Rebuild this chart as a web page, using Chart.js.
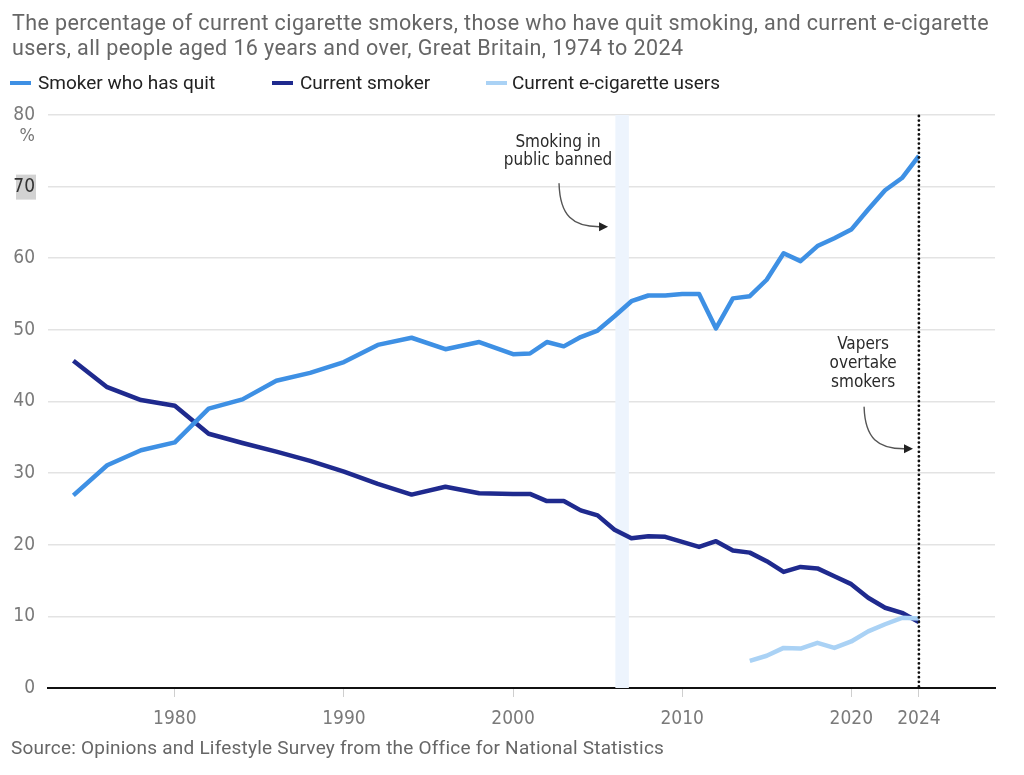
<!DOCTYPE html>
<html>
<head>
<meta charset="utf-8">
<script src="https://cdn.jsdelivr.net/npm/chart.js@4.4.1/dist/chart.umd.min.js"></script>
<style>
html,body{margin:0;padding:0;background:#fff;width:1024px;height:775px;overflow:hidden;}
#wrap{position:relative;width:1024px;height:775px;}
canvas{position:absolute;left:0;top:0;}
.title{position:absolute;left:12px;top:10px;font:21.5px/25px Roboto, sans-serif;letter-spacing:0.4px;color:#666;white-space:nowrap;}
.leg{position:absolute;top:71px;font:19px/24px Roboto, sans-serif;color:#222;white-space:nowrap;}
.sw{position:absolute;top:81px;width:21px;height:4px;}
.source{position:absolute;left:11px;top:737px;font:19px/22px Roboto, sans-serif;letter-spacing:0.22px;color:#666;white-space:nowrap;}
</style>
</head>
<body>
<div id="wrap">
<canvas id="c" width="1024" height="775"></canvas>
<div class="title">The percentage of current cigarette smokers, those who have quit smoking, and current e-cigarette<br>users, all people aged 16 years and over, Great Britain, 1974 to 2024</div>
<div id="legend"></div>
<div class="source">Source: Opinions and Lifestyle Survey from the Office for National Statistics</div>
</div>
<script>
// ---- data ----
const years = [1974,1976,1978,1980,1982,1984,1986,1988,1990,1992,1994,1996,1998,2000,2001,2002,2003,2004,2005,2006,2007,2008,2009,2010,2011,2012,2013,2014,2015,2016,2017,2018,2019,2020,2021,2022,2023,2024];
const quitPct = [26.9,31.1,33.2,34.3,39.0,40.3,42.9,44.0,45.5,47.9,48.9,47.3,48.3,46.6,46.7,48.3,47.7,49.0,49.9,51.9,54.0,54.8,54.8,55.0,55.0,50.2,54.4,54.7,57.0,60.7,59.6,61.7,62.8,64.0,66.8,69.5,71.2,74.3];
const smokerPct = [45.7,42.0,40.2,39.4,35.5,34.2,33.0,31.7,30.2,28.5,27.0,28.1,27.2,27.1,27.1,26.1,26.1,24.8,24.1,22.1,20.9,21.2,21.1,20.4,19.7,20.5,19.2,18.9,17.7,16.2,16.9,16.7,15.6,14.5,12.6,11.2,10.5,9.2];
const vapeYears = [2014,2015,2016,2017,2018,2019,2020,2021,2022,2023,2024];
const vapePct = [3.8,4.5,5.6,5.5,6.3,5.6,6.5,7.9,8.9,9.8,9.7];
const seriesNames = ['Smoker who has quit','Current smoker','Current e-cigarette users'];
const seriesColors = ['#3e90e4','#1f2a8e','#aad2f5'];
const xTickYears = [1980,1990,2000,2010,2020,2024];
const yTickValues = [0,10,20,30,40,50,60,70,80];
const banYears = [2006.05, 2006.85];
const markerYear = 2024;
const annotations = [
  {lines:['Smoking in','public banned'], x:2002.66, y:[76.2,73.6], arrowFrom:[2002.72,70.4], arrowTo:[2005.62,64.4]},
  {lines:['Vapers','overtake','smokers'], x:2020.7, y:[47.9,45.3,42.6], arrowFrom:[2020.76,39.2], arrowTo:[2023.65,33.4]}
];

// ---- legend (HTML) ----
const legendSwatchLeft = [10, 272, 486];
const legendTextLeft = [38, 300, 512];
const legendEl = document.getElementById('legend');
seriesNames.forEach((n,i)=>{
  const sw = document.createElement('div');
  sw.className='sw'; sw.style.left = legendSwatchLeft[i]+'px'; sw.style.background = seriesColors[i];
  const t = document.createElement('div');
  t.className='leg'; t.style.left = legendTextLeft[i]+'px'; t.textContent = n;
  legendEl.appendChild(sw); legendEl.appendChild(t);
});

const NARROW = '"Liberation Sans Narrow", "DejaVu Sans Condensed", "Roboto Condensed", "Arial Narrow", sans-serif';

const overlay = {
  id:'overlay',
  beforeDraw(chart){
    const ctx = chart.ctx, y = chart.scales.y;
    const p = y.getPixelForValue(70);
    ctx.save();
    ctx.fillStyle = '#d2d2d2';
    ctx.fillRect(16, p-12, 20, 25);
    ctx.restore();
  },
  beforeDatasetsDraw(chart){
    const ctx = chart.ctx, x = chart.scales.x, a = chart.chartArea;
    const x0 = x.getPixelForValue(banYears[0]), x1 = x.getPixelForValue(banYears[1]);
    ctx.save();
    ctx.fillStyle = '#edf4fd';
    ctx.fillRect(x0, a.top, x1-x0, a.bottom-a.top);
    ctx.restore();
  },
  afterDatasetsDraw(chart){
    const ctx = chart.ctx, x = chart.scales.x, y = chart.scales.y, a = chart.chartArea;
    ctx.save();
    // dotted line
    const mx = x.getPixelForValue(markerYear);
    ctx.strokeStyle = '#111'; ctx.lineWidth = 2.8; ctx.lineCap='round';
    ctx.setLineDash([0,4.6]);
    ctx.beginPath(); ctx.moveTo(mx, a.top+1); ctx.lineTo(mx, a.bottom); ctx.stroke();
    ctx.setLineDash([]);
    // % unit
    ctx.fillStyle = '#777'; ctx.font = '18px '+NARROW; ctx.textAlign='right'; ctx.textBaseline='middle';
    ctx.fillText('%', 35, y.getPixelForValue(80)+21);
    // annotations
    annotations.forEach(an=>{
      ctx.fillStyle = '#2a2a2a'; ctx.font = '17px '+NARROW; ctx.textAlign='center'; ctx.textBaseline='middle';
      an.lines.forEach((l,i)=> ctx.fillText(l, x.getPixelForValue(an.x), y.getPixelForValue(an.y[i])));
      const sx = x.getPixelForValue(an.arrowFrom[0]), sy = y.getPixelForValue(an.arrowFrom[1]);
      const tx = x.getPixelForValue(an.arrowTo[0]), ty = y.getPixelForValue(an.arrowTo[1]);
      const bx = tx-9;
      ctx.strokeStyle = '#555'; ctx.lineWidth = 1.4;
      ctx.beginPath(); ctx.moveTo(sx, sy);
      ctx.bezierCurveTo(sx+1, sy+(ty-sy)*0.75, sx+(bx-sx)*0.35, ty, bx, ty);
      ctx.stroke();
      ctx.fillStyle = '#222';
      ctx.beginPath(); ctx.moveTo(tx, ty); ctx.lineTo(bx, ty-4.5); ctx.lineTo(bx, ty+4.5); ctx.closePath(); ctx.fill();
    });
    ctx.restore();
  }
};

const mk = (xs, ys) => xs.map((v,i)=>({x:v, y:ys[i]}));

new Chart(document.getElementById('c'), {
  type:'line',
  data:{
    datasets:[
      {label:seriesNames[0], data:mk(years, quitPct), borderColor:seriesColors[0], backgroundColor:seriesColors[0], borderWidth:4.5, pointRadius:0, tension:0, order:1},
      {label:seriesNames[1], data:mk(years, smokerPct), borderColor:seriesColors[1], backgroundColor:seriesColors[1], borderWidth:4.5, pointRadius:0, tension:0, order:3},
      {label:seriesNames[2], data:mk(vapeYears, vapePct), borderColor:seriesColors[2], backgroundColor:seriesColors[2], borderWidth:4.5, pointRadius:0, tension:0, order:2}
    ]
  },
  options:{
    responsive:false, animation:false,
    layout:{padding:{left:0, top:115, right:29, bottom:37}},
    plugins:{legend:{display:false}, tooltip:{enabled:false}, title:{display:false}},
    elements:{line:{borderJoinStyle:'round', borderCapStyle:'butt'}},
    scales:{
      x:{
        type:'linear', min:1972.5, max:2028.5,
        afterBuildTicks:s=>{s.ticks = xTickYears.map(v=>({value:v}));},
        afterFit:s=>{s.height = 50;},
        ticks:{autoSkip:false, maxRotation:0, color:'#7a7a7a', padding:11, font:{family:NARROW, size:19}, callback:v=>String(v)},
        grid:{drawOnChartArea:false, drawTicks:true, tickLength:9, color:'#cfcfcf', lineWidth:1},
        border:{display:true, color:'#111', width:2}
      },
      y:{
        min:0, max:80,
        afterBuildTicks:s=>{s.ticks = yTickValues.map(v=>({value:v}));},
        afterFit:s=>{s.width = 48;},
        ticks:{color:c=> c.tick && c.tick.value===70 ? '#333' : '#7a7a7a', padding:13, font:{family:NARROW, size:19}},
        grid:{drawTicks:false, color:c=> c.tick && c.tick.value===0 ? '#111' : '#e3e3e3', lineWidth:c=> c.tick && c.tick.value===0 ? 2 : 1.6},
        border:{display:false}
      }
    }
  },
  plugins:[overlay]
});
</script>
</body>
</html>
